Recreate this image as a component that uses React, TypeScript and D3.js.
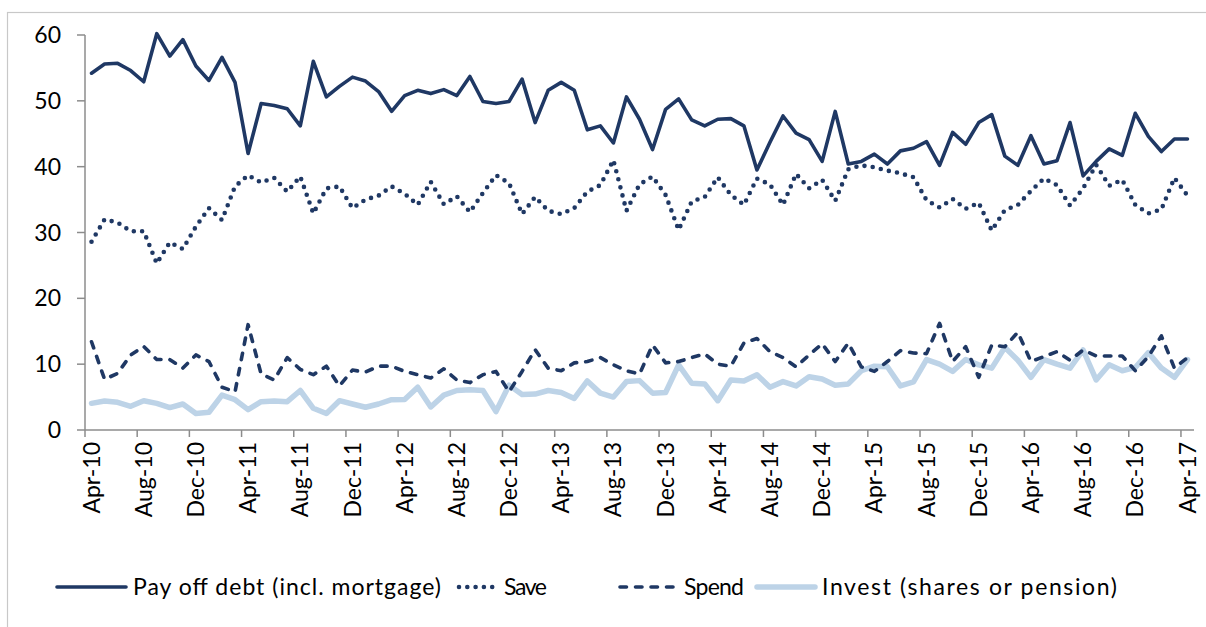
import React from 'react';
import * as d3 from 'd3';

const W = 1206;
const H = 627;

// monthly, Apr-10 .. Apr-17 (85 months)
const debt = [
	54.2, 55.6, 55.7, 54.6, 52.9, 60.2, 56.8, 59.3, 55.3, 53.1, 56.6, 52.8,
	42.0, 49.6, 49.3, 48.8, 46.2, 56.0, 50.6, 52.2, 53.6, 53.0, 51.4, 48.4,
	50.8, 51.6, 51.1, 51.7, 50.8, 53.7, 49.9, 49.6, 49.9, 53.3, 46.7, 51.6,
	52.8, 51.6, 45.6, 46.2, 43.6, 50.6, 47.2, 42.6, 48.7, 50.3, 47.1, 46.2,
	47.2, 47.3, 46.2, 39.5, 43.7, 47.7, 45.1, 44.1, 40.8, 48.4, 40.4, 40.8,
	41.9, 40.4, 42.4, 42.8, 43.8, 40.2, 45.2, 43.4, 46.7, 47.9, 41.6, 40.2,
	44.7, 40.4, 40.9, 46.7, 38.6, 40.8, 42.7, 41.7, 48.1, 44.6, 42.3, 44.2,
	44.2,
];

const save = [
	28.6, 32.0, 31.5, 30.2, 30.2, 25.3, 28.5, 27.5, 30.9, 33.7, 31.9, 37.0,
	38.7, 37.6, 38.3, 36.2, 38.5, 32.9, 36.7, 37.0, 33.7, 35.0, 35.6, 37.0,
	35.9, 34.2, 37.7, 34.3, 35.5, 33.1, 36.0, 38.7, 37.5, 32.8, 35.4, 33.3,
	32.8, 33.7, 36.2, 37.2, 41.0, 33.3, 37.3, 38.5, 35.7, 30.4, 34.7, 35.4,
	38.4, 35.7, 34.2, 38.2, 37.3, 34.2, 38.9, 36.7, 38.0, 34.8, 39.6, 40.2,
	39.9, 39.4, 39.0, 38.4, 34.9, 33.8, 35.1, 33.6, 34.5, 30.3, 33.4, 34.2,
	36.3, 38.2, 37.2, 34.1, 36.7, 40.3, 37.1, 38.0, 34.2, 32.9, 33.5, 38.3,
	35.6,
];

const spend = [
	13.4, 7.7, 8.6, 11.4, 12.7, 10.7, 10.7, 9.4, 11.4, 10.4, 6.5, 5.8,
	16.0, 8.5, 7.6, 11.0, 9.2, 8.4, 9.7, 6.7, 9.1, 8.8, 9.7, 9.7,
	8.9, 8.4, 7.9, 9.3, 7.6, 7.2, 8.4, 8.9, 5.8, 8.9, 12.2, 9.4,
	9.0, 10.2, 10.4, 11.0, 9.9, 9.0, 8.5, 12.9, 10.2, 10.4, 11.0, 11.55,
	10.0, 9.7, 13.2, 13.9, 11.9, 11.0, 9.6, 11.4, 13.1, 10.4, 13.2, 9.6,
	8.9, 10.4, 12.05, 11.7, 11.6, 16.2, 10.4, 12.65, 8.0, 12.9, 12.65, 14.85,
	10.4, 11.15, 11.9, 10.6, 12.15, 11.25, 11.25, 11.25, 9.0, 11.15, 14.3, 9.4,
	11.0,
];

const invest = [
	4.05, 4.4, 4.2, 3.6, 4.45, 4.05, 3.4, 3.95, 2.5, 2.7, 5.3, 4.6,
	3.1, 4.3, 4.4, 4.3, 6.0, 3.3, 2.5, 4.45, 3.95, 3.45, 3.95, 4.6,
	4.65, 6.5, 3.5, 5.3, 6.0, 6.1, 6.0, 2.8, 6.8, 5.4, 5.45, 6.0,
	5.7, 4.8, 7.45, 5.6, 5.0, 7.35, 7.5, 5.6, 5.7, 9.9, 7.1, 7.0,
	4.45, 7.6, 7.45, 8.4, 6.5, 7.35, 6.7, 8.1, 7.75, 6.8, 7.0, 9.0,
	9.7, 9.6, 6.7, 7.3, 10.7, 10.0, 8.9, 10.7, 9.9, 9.4, 12.55, 10.6,
	8.0, 10.7, 10.0, 9.4, 12.15, 7.6, 9.9, 9.0, 9.5, 11.75, 9.4, 8.0,
	10.7,
];

// one label every 4 months
const tickLabels = [
	'Apr-10', 'Aug-10', 'Dec-10', 'Apr-11', 'Aug-11', 'Dec-11', 'Apr-12', 'Aug-12',
	'Dec-12', 'Apr-13', 'Aug-13', 'Dec-13', 'Apr-14', 'Aug-14', 'Dec-14', 'Apr-15',
	'Aug-15', 'Dec-15', 'Apr-16', 'Aug-16', 'Dec-16', 'Apr-17',
];
const yTicks = [0, 10, 20, 30, 40, 50, 60];

const seriesNames = ['Pay off debt (incl. mortgage)', 'Save', 'Spend', 'Invest (shares or pension)'];

const NAVY = '#1f3864';
const LIGHT = '#bdd3e7';
const AXIS = '#8c8c8c';
const FONT = 'Lato, "Open Sans", sans-serif';

type Style = { color: string; width: number; dash?: string; cap: 'round' | 'butt' };

const styles: Style[] = [
	{ color: NAVY, width: 3.6, cap: 'round' },
	{ color: NAVY, width: 4.6, dash: '0 8.3', cap: 'round' },
	{ color: NAVY, width: 3.6, dash: '6.5 9', cap: 'round' },
	{ color: LIGHT, width: 5.5, cap: 'round' },
];

const months = d3.range(debt.length);

export default function App() {
	const x = d3.scaleBand<number>().domain(months).range([85, 1194]).paddingInner(0).paddingOuter(0);
	const y = d3.scaleLinear().domain([0, 60]).range([430, 35]);
	const cx = (i: number) => (x(i) ?? 0) + x.bandwidth() / 2;

	const line = d3.line<number>()
		.x((_, i) => cx(i))
		.y(d => y(d));

	const data = [debt, save, spend, invest];
	// draw order: invest behind, debt on top
	const order = [3, 2, 1, 0];

	// legend layout
	const legendX = [57, 459, 620, 757];
	const legendLen = [69, 38, 57, 58];
	const legendTextW = [308, 43, 60, 295];
	const legendY = 587;

	return (
		<svg width={W} height={H} style={{ position: 'absolute', left: 0, top: 0, background: '#fff' }}>
			<rect x={7.5} y={12.5} width={1220} height={640} fill="#fff" stroke="#c8c8c8" strokeWidth={1.2} />

			{/* y axis */}
			<line x1={85} x2={85} y1={y(60)} y2={y(0)} stroke={AXIS} strokeWidth={1.5} />
			{yTicks.map(t => (
				<g key={t}>
					<line x1={77} x2={85} y1={y(t)} y2={y(t)} stroke={AXIS} strokeWidth={1.5} />
					<text x={61} y={y(t)} dy="0.35em" textAnchor="end" fontFamily={FONT} fontSize={23} fill="#000">{t}</text>
				</g>
			))}

			{/* x axis */}
			<line x1={85} x2={1194} y1={y(0)} y2={y(0)} stroke={AXIS} strokeWidth={1.5} />
			{tickLabels.map((lab, k) => {
				const i = k * 4;
				const tx = x(i) ?? 0;
				return (
					<g key={lab}>
						<line x1={tx} x2={tx} y1={y(0)} y2={y(0) + 7} stroke={AXIS} strokeWidth={1.5} />
						<text
							transform={`translate(${cx(i)},${y(0) + 12}) rotate(-90)`}
							dy="0.35em"
							textAnchor="end"
							fontFamily={FONT}
							fontSize={23}
							fill="#000"
						>{lab}</text>
					</g>
				);
			})}

			{/* series */}
			{order.map(s => (
				<path
					key={s}
					d={line(data[s]) ?? ''}
					fill="none"
					stroke={styles[s].color}
					strokeWidth={styles[s].width}
					strokeDasharray={styles[s].dash}
					strokeLinecap={styles[s].cap}
					strokeLinejoin="round"
				/>
			))}

			{/* legend */}
			{seriesNames.map((name, s) => (
				<g key={name}>
					<line
						x1={legendX[s]}
						x2={legendX[s] + legendLen[s]}
						y1={legendY}
						y2={legendY}
						stroke={styles[s].color}
						strokeWidth={styles[s].width}
						strokeDasharray={styles[s].dash}
						strokeLinecap={styles[s].cap}
					/>
					<text
						x={legendX[s] + legendLen[s] + 7}
						y={legendY}
						dy="0.35em"
						fontFamily={FONT}
						fontSize={23}
						textLength={legendTextW[s]}
						lengthAdjust="spacing"
						fill="#000"
					>{name}</text>
				</g>
			))}
		</svg>
	);
}
